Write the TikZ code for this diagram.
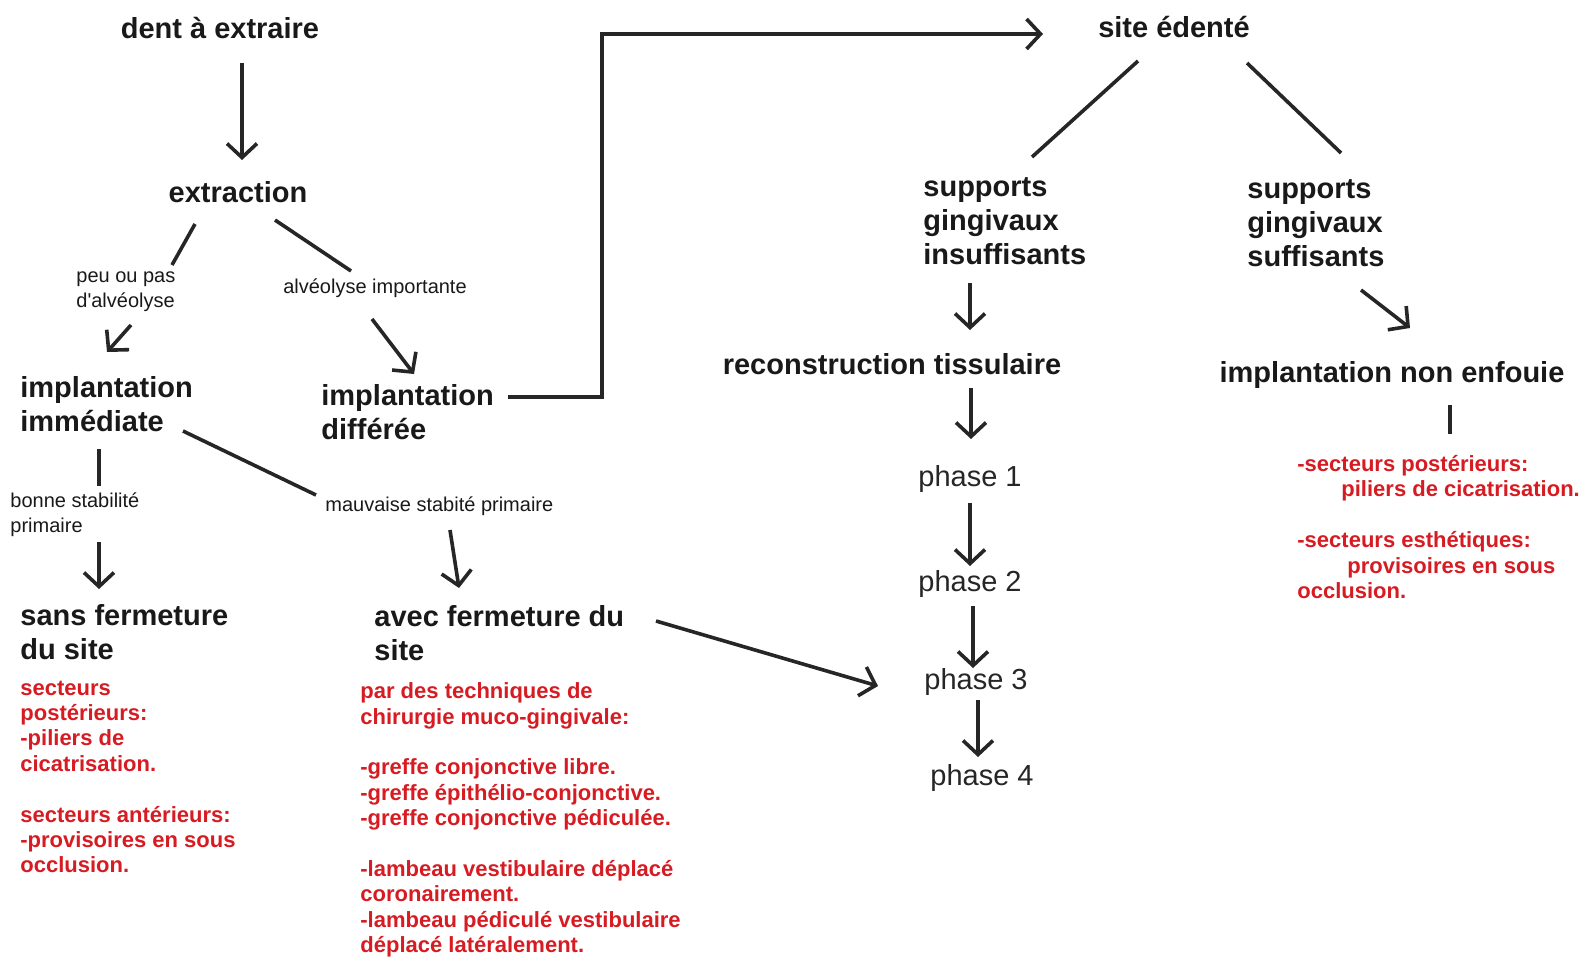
\documentclass[tikz,border=0pt]{standalone}
\usepackage{fontspec}
\setmainfont{Liberation Sans}
\usetikzlibrary{calc}
\usetikzlibrary{positioning}
\usetikzlibrary{arrows.meta}
\definecolor{notered}{RGB}{214,28,34}
\tikzset{baseline=(current bounding box.center)}
\tikzstyle{stepnode} = [font=\bfseries\fontsize{14.5}{17}\selectfont, text=black!90, align=left, inner sep=1pt]
\tikzstyle{phasenode} = [font=\fontsize{14.5}{17}\selectfont, text=black!85, inner sep=1pt]
\tikzstyle{condnode} = [font=\fontsize{10}{12.5}\selectfont, text=black!90, align=left, inner sep=1pt]
\tikzstyle{notenode} = [font=\bfseries\fontsize{11}{12.7}\selectfont, text=notered, align=left, inner sep=1pt]
\tikzstyle{link} = [line width=1.8pt, draw=black!85]
\tikzstyle{arrowlink} = [link, -{Straight Barb[length=7pt,width=15pt]}]

\begin{document}
\begin{tikzpicture}[x=0.5pt, y=-0.5pt]
    \useasboundingbox (0,0) rectangle (1583,969);

    % left branch
    \node[stepnode] (tooth) at (220,28) {dent à extraire};
    \node[stepnode] (extraction) at (238,192) {extraction};
    \node[condnode, anchor=west] (low_resorb) at (74,292) {peu ou pas\\d\textquotesingle alvéolyse};
    \node[condnode] (high_resorb) at (375,288) {alvéolyse importante};
    \node[stepnode, anchor=west] (immediate) at (18,404) {implantation\\immédiate};
    \node[stepnode, anchor=west] (delayed) at (319,412) {implantation\\différée};
    \node[condnode, anchor=west] (good_stab) at (8,515) {bonne stabilité\\primaire};
    \node[condnode, anchor=west] (poor_stab) at (323,506) {mauvaise stabité primaire};
    \node[stepnode, anchor=west] (open_site) at (18,632) {sans fermeture\\du site};
    \node[stepnode, anchor=west] (closed_site) at (372,633) {avec fermeture du\\site};
    \node[notenode, anchor=west] (open_notes) at (18,777) {secteurs\\postérieurs:\\-piliers de\\cicatrisation.\\[12.7pt]secteurs antérieurs:\\-provisoires en sous\\occlusion.};
    \node[notenode, anchor=west] (closed_notes) at (358,820) {par des techniques de\\chirurgie muco-gingivale:\\[12.7pt]-greffe conjonctive libre.\\-greffe épithélio-conjonctive.\\-greffe conjonctive pédiculée.\\[12.7pt]-lambeau vestibulaire déplacé\\coronairement.\\-lambeau pédiculé vestibulaire\\déplacé latéralement.};

    % right branch
    \node[stepnode] (site) at (1174,27) {site édenté};
    \node[stepnode, anchor=west] (weak_gum) at (921,221) {supports\\gingivaux\\insuffisants};
    \node[stepnode, anchor=west] (strong_gum) at (1245,223) {supports\\gingivaux\\suffisants};
    \node[stepnode] (rebuild) at (892,364) {reconstruction tissulaire};
    \node[stepnode] (unburied) at (1392,375) {implantation non enfouie};
    \node[phasenode] (phase_1) at (970,479) {phase 1};
    \node[phasenode] (phase_2) at (970,584) {phase 2};
    \node[phasenode] (phase_3) at (976,682) {phase 3};
    \node[phasenode] (phase_4) at (982,778) {phase 4};
    \node[notenode, anchor=west] (unburied_notes) at (1295,527) {-secteurs postérieurs:\\\hspace*{22pt}piliers de cicatrisation.\\[12.7pt]-secteurs esthétiques:\\\hspace*{25pt}provisoires en sous\\occlusion.};

    \draw[arrowlink] ($(tooth)+(22,35)$) -- ($(extraction)+(4,-32)$);
    \draw[link] ($(extraction)+(-43,32)$) -- ($(low_resorb.west)+(98,-27)$);
    \draw[arrowlink] ($(low_resorb.west)+(57,33)$) -- ($(immediate.west)+(89,-52)$);
    \draw[link] ($(extraction)+(37,28)$) -- ($(high_resorb)+(-24,-17)$);
    \draw[arrowlink] ($(high_resorb)+(-3,31)$) -- ($(delayed.west)+(95,-38)$);
    \draw[arrowlink] ($(delayed.west)+(189,-15)$) -- ++(94,0) |- ($(site)+(-131,7)$);
    \draw[link] ($(immediate.west)+(81,45)$) -- ($(good_stab.west)+(91,-29)$);
    \draw[arrowlink] ($(good_stab.west)+(91,27)$) -- ($(open_site.west)+(81,-43)$);
    \draw[link] ($(immediate.west)+(165,27)$) -- ($(poor_stab.west)+(-7,-11)$);
    \draw[arrowlink] ($(poor_stab.west)+(127,24)$) -- ($(closed_site.west)+(87,-45)$);
    \draw[arrowlink] ($(closed_site.west)+(284,-12)$) -- ($(phase_3)+(-98,4)$);

    \draw[link] ($(site)+(-36,34)$) -- ($(weak_gum.west)+(111,-64)$);
    \draw[link] ($(site)+(73,36)$) -- ($(strong_gum.west)+(96,-70)$);
    \draw[arrowlink] ($(weak_gum.west)+(49,62)$) -- ($(rebuild)+(78,-34)$);
    \draw[arrowlink] ($(rebuild)+(79,24)$) -- ($(phase_1)+(1,-40)$);
    \draw[arrowlink] ($(phase_1)+(0,24)$) -- ($(phase_2)+(0,-18)$);
    \draw[arrowlink] ($(phase_2)+(3,22)$) -- ($(phase_3)+(-3,-14)$);
    \draw[arrowlink] ($(phase_3)+(2,18)$) -- ($(phase_4)+(-4,-21)$);
    \draw[arrowlink] ($(strong_gum.west)+(116,67)$) -- ($(unburied)+(18,-47)$);
    \draw[link] ($(unburied)+(58,30)$) -- ($(unburied_notes.west)+(155,-93)$);
\end{tikzpicture}
\end{document}
